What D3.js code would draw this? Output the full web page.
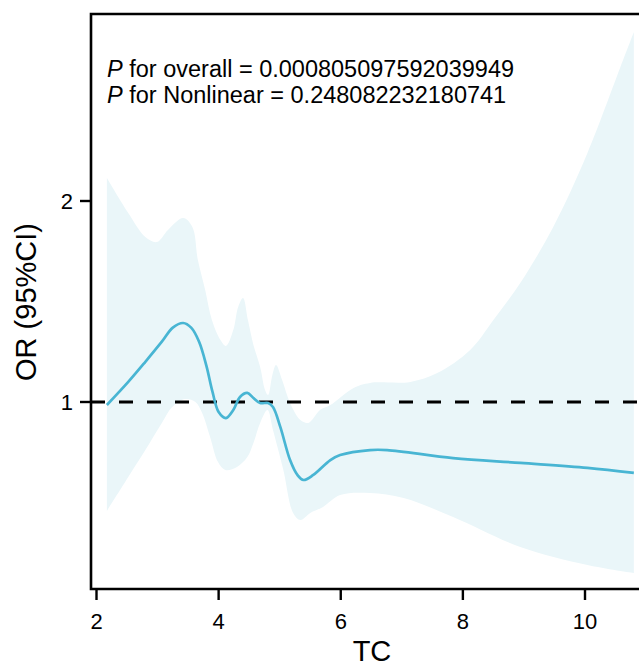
<!DOCTYPE html>
<html>
<head>
<meta charset="utf-8">
<script src="https://cdn.jsdelivr.net/npm/d3@7"></script>
<style>
  html, body { margin: 0; padding: 0; background: #fff; }
  svg { display: block; font-family: "Liberation Sans", Arial, sans-serif; }
</style>
</head>
<body>
<svg id="chart" width="639" height="662"></svg>
<script>
// spline estimate (OR)
const tcLine = [2.17, 2.52, 2.80, 3.07, 3.25, 3.42, 3.55, 3.68, 3.80, 3.90, 4.00, 4.12, 4.24, 4.35, 4.47, 4.57, 4.68, 4.81, 4.89, 5.01, 5.17, 5.29, 5.39, 5.55, 5.83, 5.99, 6.48, 6.76, 7.84, 8.94, 10.04, 10.8];
const orLine = [0.985, 1.10, 1.20, 1.30, 1.37, 1.393, 1.37, 1.30, 1.18, 1.05, 0.95, 0.92, 0.96, 1.025, 1.045, 1.02, 0.995, 0.995, 0.975, 0.876, 0.711, 0.637, 0.612, 0.637, 0.711, 0.736, 0.761, 0.761, 0.721, 0.697, 0.672, 0.647];

// upper 95% CI
const tcUpper = [2.17, 2.52, 2.80, 2.99, 3.17, 3.42, 3.57, 3.66, 3.78, 3.89, 4.03, 4.12, 4.24, 4.32, 4.40, 4.48, 4.57, 4.68, 4.76, 4.81, 4.88, 4.94, 5.04, 5.17, 5.34, 5.47, 5.66, 5.83, 6.21, 6.48, 7.14, 7.58, 8.12, 8.50, 8.94, 9.48, 10.04, 10.58, 10.8];
const orUpper = [2.114, 1.940, 1.821, 1.796, 1.856, 1.915, 1.871, 1.706, 1.557, 1.408, 1.308, 1.279, 1.358, 1.473, 1.517, 1.408, 1.284, 1.174, 1.060, 1.035, 1.134, 1.184, 1.109, 0.995, 0.910, 0.896, 0.960, 0.985, 1.070, 1.095, 1.100, 1.144, 1.259, 1.408, 1.592, 1.871, 2.239, 2.667, 2.841];

// lower 95% CI
const tcLower = [2.17, 2.52, 2.80, 3.07, 3.24, 3.45, 3.62, 3.73, 3.86, 3.99, 4.11, 4.30, 4.47, 4.57, 4.68, 4.80, 4.89, 5.06, 5.22, 5.34, 5.50, 5.71, 5.99, 6.48, 7.03, 7.84, 8.94, 10.04, 10.8];
const orLower = [0.458, 0.627, 0.761, 0.896, 0.975, 1.015, 1.0, 0.945, 0.826, 0.701, 0.662, 0.677, 0.726, 0.796, 0.896, 0.960, 0.861, 0.662, 0.448, 0.413, 0.448, 0.478, 0.537, 0.547, 0.522, 0.428, 0.279, 0.189, 0.149];

const xTicks = [2, 4, 6, 8, 10];
const yTicks = [1, 2];
const refOR = 1;
const pLines = [
  { label: " for overall = ", value: "0.000805097592039949" },
  { label: " for Nonlinear = ", value: "0.248082232180741" }
];

const svg = d3.select('#chart');

const x = d3.scaleLinear().domain([2, 10]).range([96.5, 585]);
const y = d3.scaleLinear().domain([1, 2]).range([402, 201]);

const panel = { left: 91, top: 14, bottom: 589, right: 700 };

// CI band: upper edge forward, lower edge back
const edge = d3.line()
  .x(d => x(d[0]))
  .y(d => y(d[1]))
  .curve(d3.curveCatmullRom.alpha(0.5));

const upperPts = tcUpper.map((t, i) => [t, orUpper[i]]);
const lowerPts = tcLower.map((t, i) => [t, orLower[i]]).reverse();
const bandPath = edge(upperPts) + 'L' + edge(lowerPts).slice(1) + 'Z';

svg.append('path')
  .attr('d', bandPath)
  .attr('fill', '#eaf6f9');

// reference line OR = 1
svg.append('line')
  .attr('x1', panel.left).attr('x2', 639)
  .attr('y1', y(refOR)).attr('y2', y(refOR))
  .attr('stroke', '#000')
  .attr('stroke-width', 2.8)
  .attr('stroke-dasharray', '14,14');

// spline
svg.append('path')
  .datum(tcLine.map((t, i) => [t, orLine[i]]))
  .attr('d', edge)
  .attr('fill', 'none')
  .attr('stroke', '#48b5d3')
  .attr('stroke-width', 2.7);

// panel border
svg.append('path')
  .attr('d', `M${panel.right},${panel.top}H${panel.left}V${panel.bottom}H${panel.right}`)
  .attr('fill', 'none')
  .attr('stroke', '#000')
  .attr('stroke-width', 2.6);

// x axis
const xAxis = svg.append('g');
xAxis.selectAll('line')
  .data(xTicks)
  .enter()
  .append('line')
  .attr('x1', d => x(d)).attr('x2', d => x(d))
  .attr('y1', panel.bottom).attr('y2', panel.bottom + 11)
  .attr('stroke', '#000')
  .attr('stroke-width', 2.4);
xAxis.selectAll('text')
  .data(xTicks)
  .enter()
  .append('text')
  .attr('x', d => x(d))
  .attr('y', 629)
  .attr('text-anchor', 'middle')
  .attr('font-size', 22)
  .text(d => d);

// y axis
const yAxis = svg.append('g');
yAxis.selectAll('line')
  .data(yTicks)
  .enter()
  .append('line')
  .attr('x1', panel.left - 11).attr('x2', panel.left)
  .attr('y1', d => y(d)).attr('y2', d => y(d))
  .attr('stroke', '#000')
  .attr('stroke-width', 2.4);
yAxis.selectAll('text')
  .data(yTicks)
  .enter()
  .append('text')
  .attr('x', 73)
  .attr('y', d => y(d) + 8)
  .attr('text-anchor', 'end')
  .attr('font-size', 22)
  .text(d => d);

// axis titles
svg.append('text')
  .attr('x', 372).attr('y', 661)
  .attr('text-anchor', 'middle')
  .attr('font-size', 29)
  .text('TC');

svg.append('text')
  .attr('transform', 'translate(36,302) rotate(-90)')
  .attr('text-anchor', 'middle')
  .attr('font-size', 29)
  .text('OR (95%CI)');

// P values
const note = svg.append('g');
pLines.forEach((p, i) => {
  const t = note.append('text')
    .attr('x', 107)
    .attr('y', 77 + i * 26)
    .attr('font-size', 23.5);
  t.append('tspan').attr('font-style', 'italic').text('P');
  t.append('tspan').text(p.label + p.value);
});
</script>
</body>
</html>
